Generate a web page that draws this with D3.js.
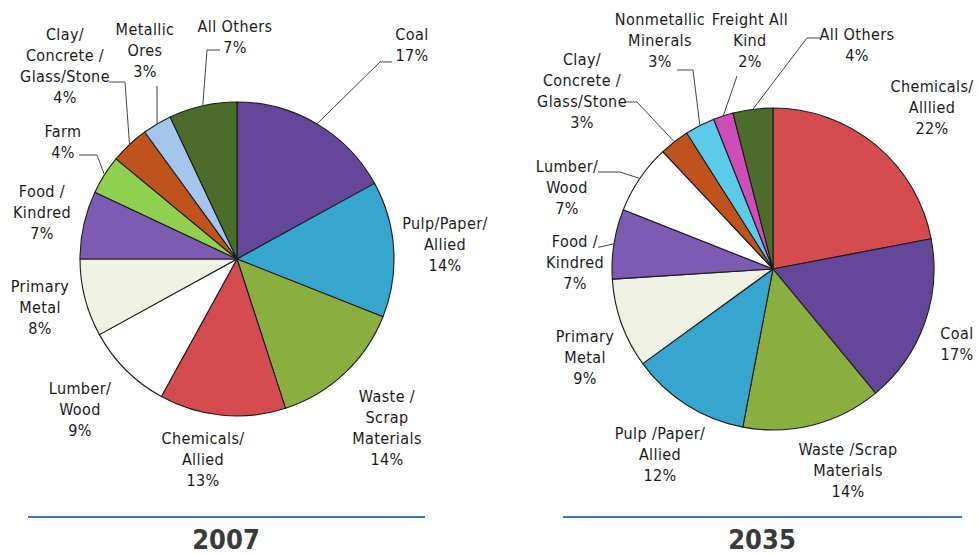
<!DOCTYPE html>
<html lang="en">
  <head>
    <meta charset="UTF-8" />
    <title>Rail Tonnage by Commodity 2007 and 2035</title>
    <script src="https://d3js.org/d3.v7.min.js"></script>
    <style>
      body {
        margin: 0;
        background: #ffffff;
      }
      .lbl {
        font-family: "DejaVu Sans Condensed", "Liberation Sans Narrow", sans-serif;
        font-size: 16px;
        letter-spacing: 0.4px;
        fill: #1a1a1a;
      }
      .year {
        font-family: "DejaVu Sans Condensed", "Liberation Sans Narrow", sans-serif;
        font-size: 27px;
        font-weight: bold;
        fill: #3a3a3a;
      }
    </style>
  </head>
  <body>
    <div class="chart"></div>
  </body>

  <script>
    // 2007 shares, clockwise from 12 o'clock
    var cats2007 = [
      "Coal", "Pulp/Paper/Allied", "Waste/Scrap Materials", "Chemicals/Allied",
      "Lumber/Wood", "Primary Metal", "Food/Kindred", "Farm",
      "Clay/Concrete/Glass/Stone", "Metallic Ores", "All Others"
    ];
    var vals2007 = [17, 14, 14, 13, 9, 8, 7, 4, 4, 3, 7];
    var labels2007 = [
      ["Coal", "17%"], ["Pulp/Paper/", "Allied", "14%"], ["Waste /", "Scrap", "Materials", "14%"],
      ["Chemicals/", "Allied", "13%"], ["Lumber/", "Wood", "9%"], ["Primary", "Metal", "8%"],
      ["Food /", "Kindred", "7%"], ["Farm", "4%"], ["Clay/", "Concrete /", "Glass/Stone", "4%"],
      ["Metallic", "Ores", "3%"], ["All Others", "7%"]
    ];

    // 2035 shares, clockwise from 12 o'clock
    var cats2035 = [
      "Chemicals/Allied", "Coal", "Waste/Scrap Materials", "Pulp/Paper/Allied",
      "Primary Metal", "Food/Kindred", "Lumber/Wood", "Clay/Concrete/Glass/Stone",
      "Nonmetallic Minerals", "Freight All Kind", "All Others"
    ];
    var vals2035 = [22, 17, 14, 12, 9, 7, 7, 3, 3, 2, 4];
    var labels2035 = [
      ["Chemicals/", "Alllied", "22%"], ["Coal", "17%"], ["Waste /Scrap", "Materials", "14%"],
      ["Pulp /Paper/", "Allied", "12%"], ["Primary", "Metal", "9%"], ["Food /", "Kindred", "7%"],
      ["Lumber/", "Wood", "7%"], ["Clay/", "Concrete /", "Glass/Stone", "3%"],
      ["Nonmetallic", "Minerals", "3%"], ["Freight All", "Kind", "2%"], ["All Others", "4%"]
    ];

    var colors = {
      "Coal": "#65479a",
      "Pulp/Paper/Allied": "#36a6cf",
      "Waste/Scrap Materials": "#8aae3f",
      "Chemicals/Allied": "#d44c50",
      "Lumber/Wood": "#ffffff",
      "Primary Metal": "#eff1e2",
      "Food/Kindred": "#7d5bb3",
      "Farm": "#8fd14f",
      "Clay/Concrete/Glass/Stone": "#c0531d",
      "Metallic Ores": "#a5c6ec",
      "Nonmetallic Minerals": "#5ccbe9",
      "Freight All Kind": "#cf4cbb",
      "All Others": "#4b6d2b"
    };

    // layout: centre of first text line for each label, and leader elbows
    var layout2007 = {
      cx: 237, cy: 259, r: 157, year: "2007", yearX: 226, rule: [28, 425],
      text: [[412, 34], [445, 223], [387, 396], [203, 438], [80, 388], [40, 286],
             [42, 191], [63, 131], [65, 34], [145, 29], [235, 26]],
      leaders: { 0: [[380, 62], [392, 62]], 7: [[97, 155], [79, 155]],
                 8: [[125, 82], [109, 82]], 9: [[157, 86], [157, 86]], 10: [[207, 50], [220, 50]] }
    };
    var layout2035 = {
      cx: 773, cy: 269, r: 161, year: "2035", yearX: 762, rule: [563, 962],
      text: [[932, 86], [957, 333], [848, 449], [660, 433], [585, 336], [575, 241],
             [567, 166], [582, 59], [660, 19], [750, 19], [857, 34]],
      leaders: { 5: [[600, 247], [598, 247]], 6: [[620, 172], [598, 172]],
                 7: [[637, 102], [625, 102]], 8: [[693, 70], [677, 70]],
                 9: [[737, 76], [737, 76]], 10: [[807, 38], [820, 38]] }
    };

    var svg = d3
      .select(".chart")
      .append("svg")
      .attr("width", 978)
      .attr("height", 554);

    drawPie(cats2007, vals2007, labels2007, layout2007);
    drawPie(cats2035, vals2035, labels2035, layout2035);

    function drawPie(cats, vals, labels, lay) {
      var data = cats.map(function (c, i) {
        return { cat: c, value: vals[i], lines: labels[i], i: i };
      });
      var pie = d3.pie().sort(null).value(function (d) { return d.value; });
      var arcs = pie(data);
      var arc = d3.arc().innerRadius(0).outerRadius(lay.r);

      var g = svg.append("g").attr("transform", "translate(" + lay.cx + "," + lay.cy + ")");

      g.selectAll("path.slice")
        .data(arcs)
        .enter()
        .append("path")
        .attr("class", "slice")
        .attr("d", arc)
        .attr("fill", function (d) { return colors[d.data.cat]; })
        .attr("stroke", "#1c1c1c")
        .attr("stroke-width", 1.1)
        .attr("stroke-linejoin", "round");

      // leader lines from slice mid-angle on the rim
      arcs.forEach(function (d) {
        var pts = lay.leaders[d.data.i];
        if (!pts) return;
        var a = (d.startAngle + d.endAngle) / 2;
        var sx = lay.cx + lay.r * Math.sin(a);
        var sy = lay.cy - lay.r * Math.cos(a);
        svg.append("polyline")
          .attr("points", [[sx, sy]].concat(pts).map(function (p) { return p.join(","); }).join(" "))
          .attr("fill", "none")
          .attr("stroke", "#444")
          .attr("stroke-width", 1);
      });

      // labels
      data.forEach(function (d) {
        var pos = lay.text[d.i];
        var t = svg.append("text")
          .attr("class", "lbl")
          .attr("text-anchor", "middle")
          .attr("x", pos[0])
          .attr("y", pos[1]);
        d.lines.forEach(function (line, k) {
          t.append("tspan")
            .attr("x", pos[0])
            .attr("dy", k === 0 ? "0.35em" : 21)
            .text(line);
        });
      });

      // rule + year
      svg.append("line")
        .attr("x1", lay.rule[0])
        .attr("x2", lay.rule[1])
        .attr("y1", 517)
        .attr("y2", 517)
        .attr("stroke", "#3d74b5")
        .attr("stroke-width", 2);

      svg.append("text")
        .attr("class", "year")
        .attr("text-anchor", "middle")
        .attr("x", lay.yearX)
        .attr("y", 549)
        .text(lay.year);
    }
  </script>
</html>
